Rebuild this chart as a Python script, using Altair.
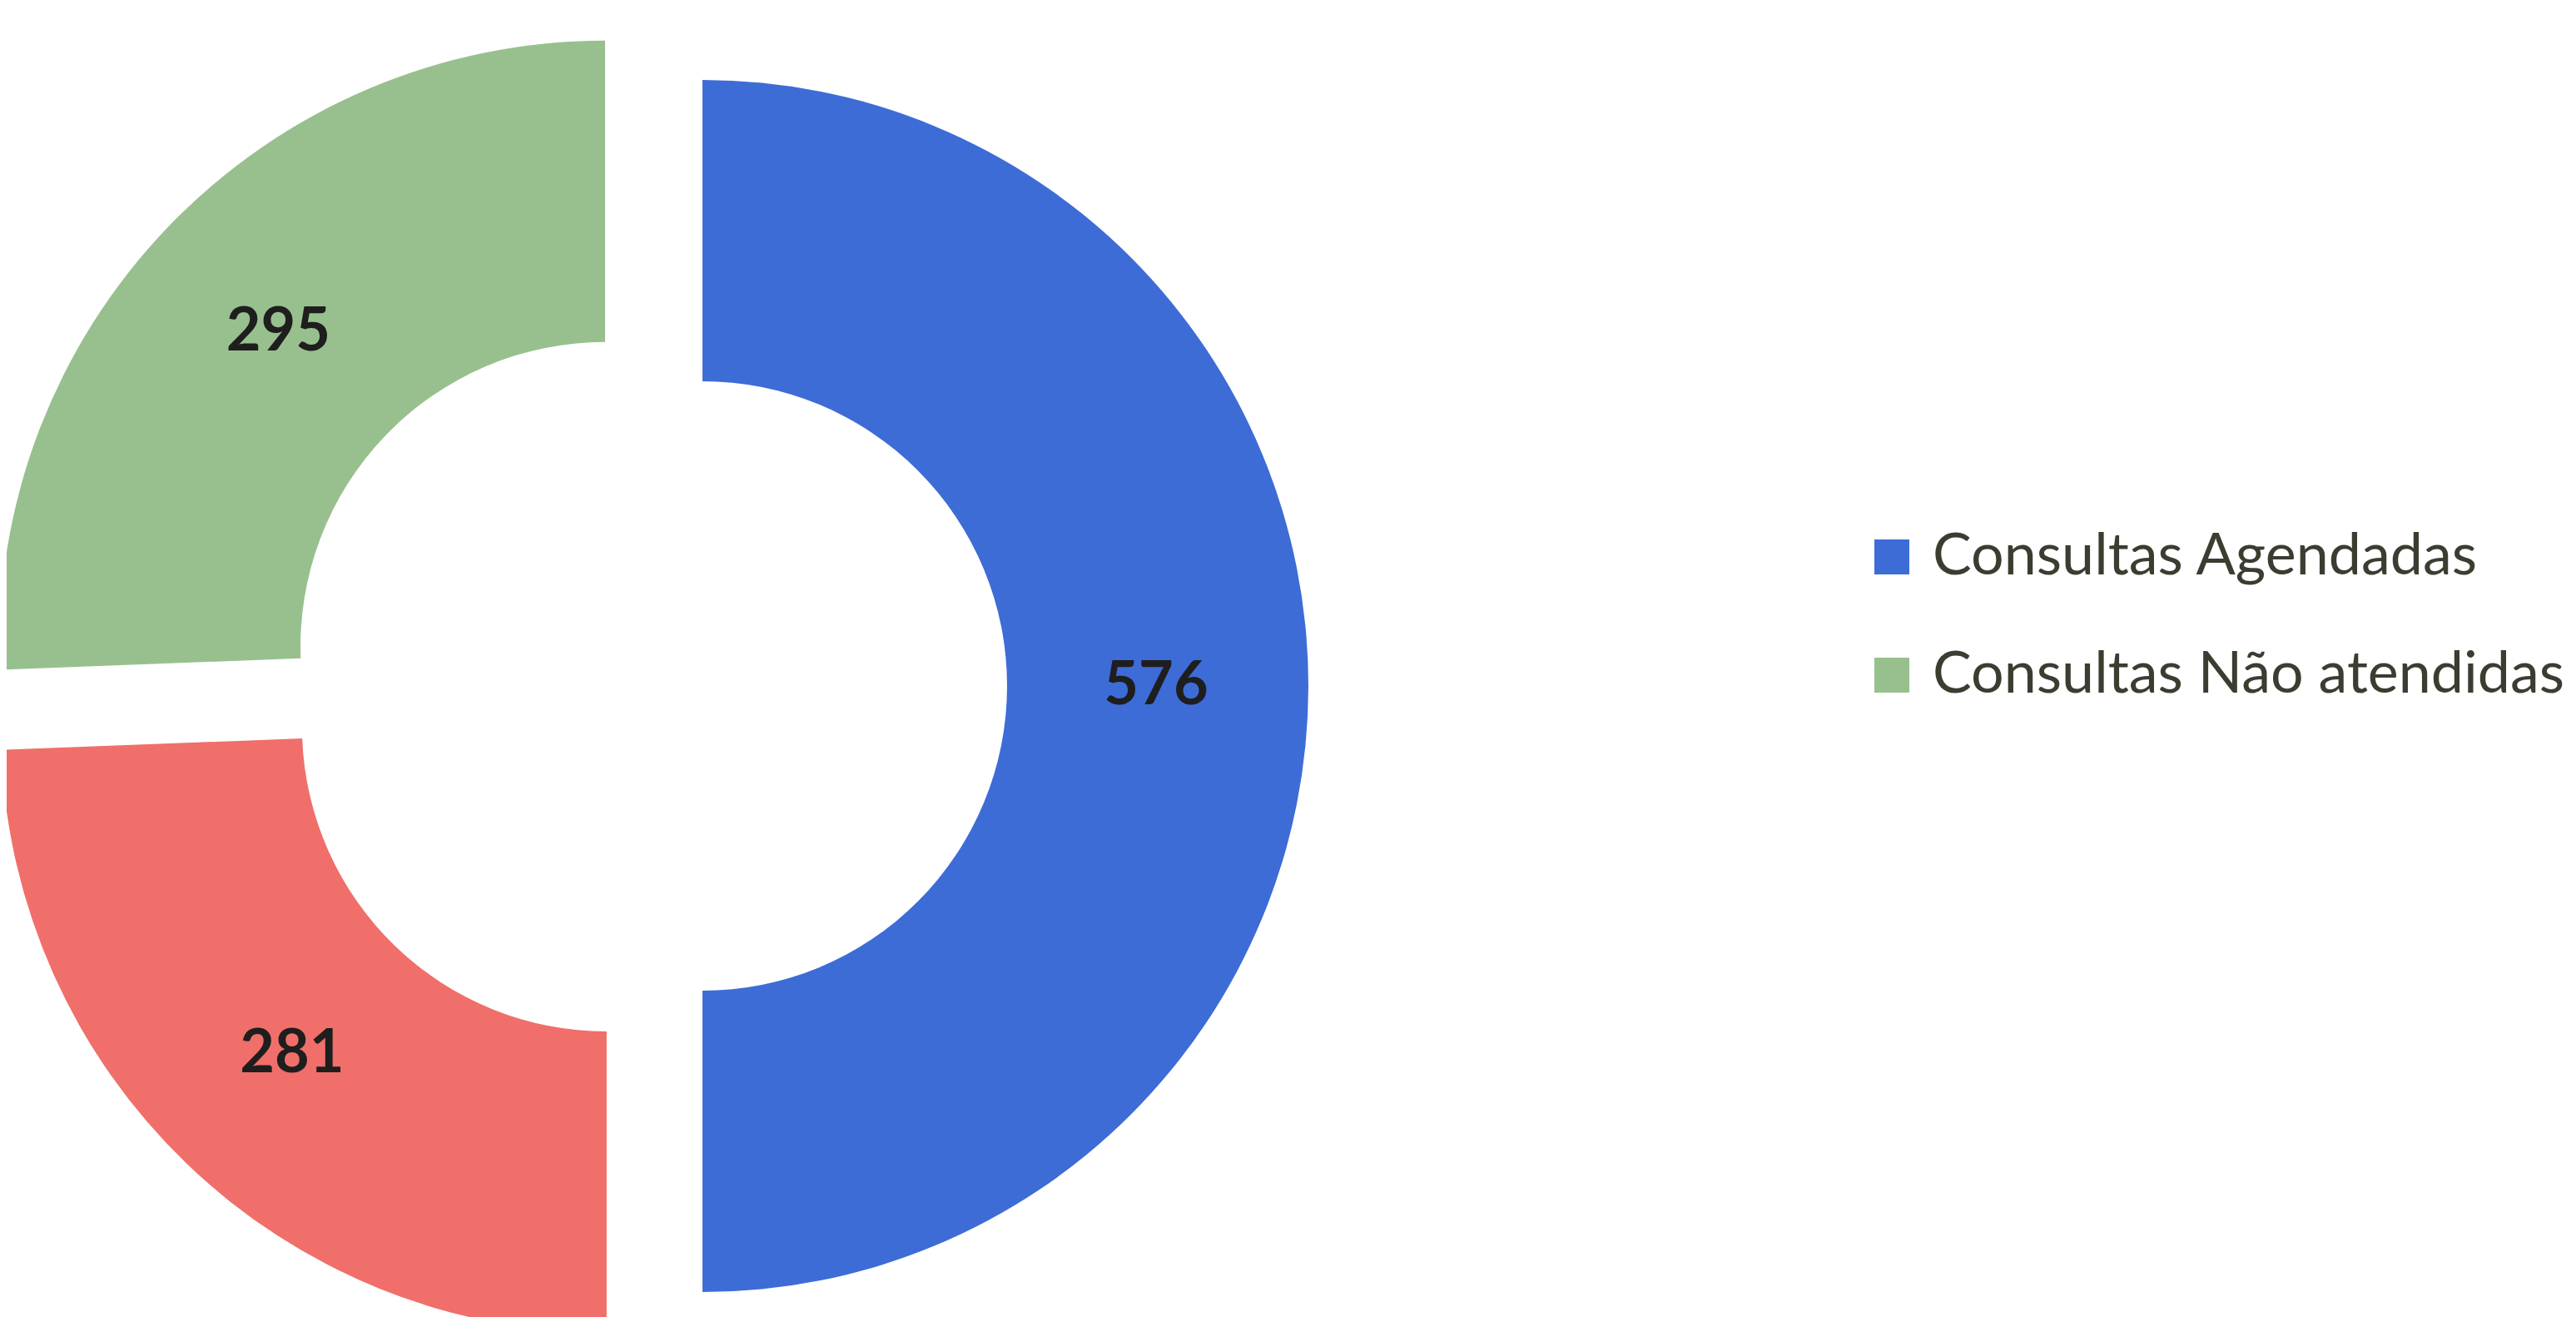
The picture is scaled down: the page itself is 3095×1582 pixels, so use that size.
import altair as alt
import pandas as pd

categorias = ["Consultas Agendadas", "Consultas Atendidas", "Consultas Não atendidas"]
valores = [576, 281, 295]
cores = ["#3d6cd7", "#f06f6a", "#98c08e"]
legenda = ["Consultas Agendadas", "Consultas Não atendidas"]

df = pd.DataFrame({"categoria": categorias, "valor": valores})

W, H = 3079, 1574
CX, CY = 768, 816      # centre of the donut (plot coords)
EXPLODE = 68           # explosion distance
R_OUT, R_IN = 728, 366
R_LAB = 545

base = (
    alt.Chart(df)
    .transform_joinaggregate(total="sum(valor)")
    .transform_window(cum="sum(valor)", frame=[None, 0])
    .transform_calculate(
        t1="datum.cum / datum.total * 2 * PI",
        t0="(datum.cum - datum.valor) / datum.total * 2 * PI",
    )
    .transform_calculate(mid="(datum.t0 + datum.t1) / 2")
    .transform_calculate(
        cx=f"{CX} + {EXPLODE} * sin(datum.mid)",
        cy=f"{CY} - {EXPLODE} * cos(datum.mid)",
    )
)

arcs = base.mark_arc(radius=R_OUT, radius2=R_IN, stroke=None).encode(
    x=alt.X("cx:Q", scale=None),
    y=alt.Y("cy:Q", scale=None),
    theta=alt.Theta("t0:Q", scale=None),
    theta2="t1:Q",
    color=alt.Color(
        "categoria:N",
        scale=alt.Scale(domain=categorias, range=cores),
        legend=alt.Legend(
            values=legenda,
            title=None,
            orient="none",
            legendX=2230,
            legendY=626,
            symbolType="square",
            symbolSize=1764,
            symbolStrokeWidth=0,
            symbolOpacity=1,
            labelFont="Lato",
            labelFontSize=70,
            labelColor="#3a3d30",
            labelOffset=14,
            rowPadding=72,
            padding=0,
            labelLimit=1200,
        ),
    ),
)

labels = base.mark_text(
    font="Lato", fontWeight="bold", fontSize=72, color="#1e1e1e",
    align="center", baseline="middle",
).encode(
    x=alt.X("cx:Q", scale=None),
    y=alt.Y("cy:Q", scale=None),
    theta=alt.Theta("mid:Q", scale=None),
    radius=alt.value(R_LAB),
    text=alt.Text("valor:Q"),
)

chart = (
    alt.layer(arcs, labels)
    .properties(width=W, height=H, autosize=alt.AutoSizeParams(type="none"), padding=0, background="white")
    .configure_view(stroke=None)
)

chart.save("out.html", embed_options={"renderer": "svg", "actions": False})
